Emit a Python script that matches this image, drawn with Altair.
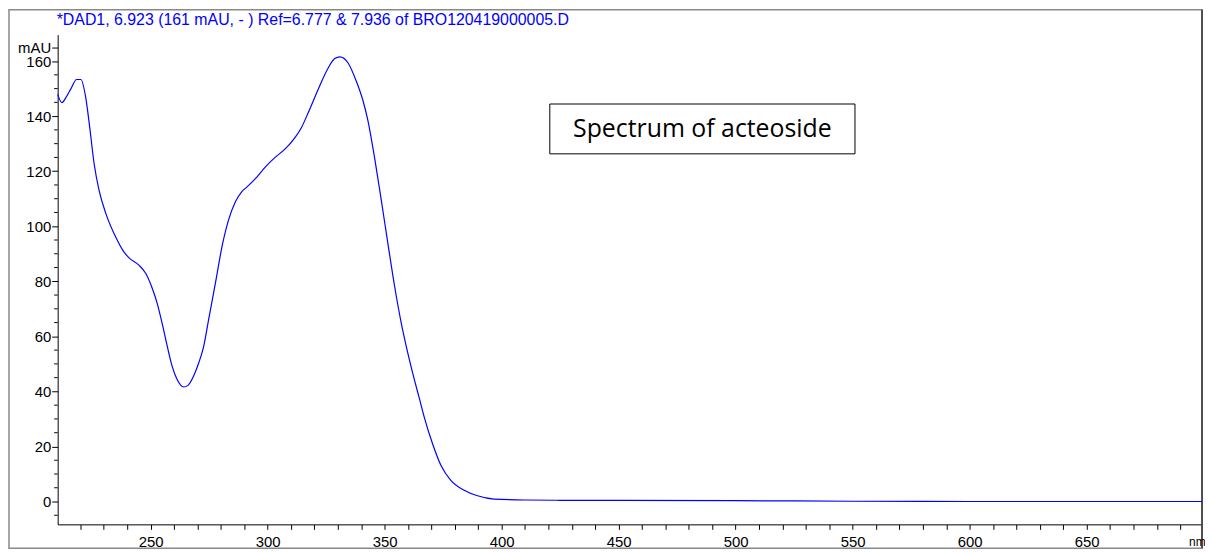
import altair as alt
import pandas as pd

# Spectrum data (wavelength nm, absorbance mAU)
wavelength = [210.3, 212.1, 213.8, 216.0, 218.4, 220.2, 222.3, 224.0, 225.9, 228.0,
              230.9, 235.1, 238.6, 240.8, 245.0, 247.9, 250.7, 252.8, 254.9, 257.1,
              259.2, 261.3, 264.2, 266.0, 268.4, 270.6, 272.7, 274.8, 277.7, 280.5,
              283.3, 286.2, 289.0, 291.1, 294.7, 298.9, 303.2, 307.4, 311.7, 314.5,
              317.4, 321.6, 325.9, 328.7, 330.9, 334.4, 337.9, 340.8, 342.9, 345.7,
              348.6, 351.4, 354.3, 357.1, 359.9, 362.8, 365.0, 367.0, 370.5, 374.1,
              378.3, 384.0, 389.7, 396.8, 410.0, 425.0, 450.0, 500.0, 550.0, 600.0,
              650.0, 699.3]
absorbance = [147.9, 144.9, 146.7, 150.0, 153.3, 153.3, 146.7, 135.9, 122.6, 113.0,
              104.6, 96.1, 90.7, 88.5, 85.9, 82.9, 77.5, 72.1, 64.9, 56.5,
              49.2, 44.4, 41.6, 42.2, 45.6, 50.4, 56.4, 66.1, 79.3, 92.5,
              102.2, 108.8, 112.6, 114.2, 117.2, 121.4, 125.0, 128.0, 132.2, 135.9,
              141.3, 149.7, 157.5, 160.9, 161.5, 159.3, 152.7, 145.5, 138.3, 125.0,
              109.4, 93.8, 78.1, 64.9, 54.0, 44.0, 37.0, 30.5, 21.0, 13.1,
              7.7, 4.1, 2.1, 0.9, 0.55, 0.45, 0.4, 0.3, 0.1, 0.0,
              0.0, 0.0]

x_ticks = list(range(220, 700, 10))
y_major = list(range(0, 161, 20)) + [165]
y_minor = [v for v in range(-5, 165, 5) if v % 20 != 0]
title_text = "*DAD1, 6.923 (161 mAU, - ) Ref=6.777 & 7.936 of BRO120419000005.D"
note_text = "Spectrum of acteoside"
note_box = {"x": 420.6, "x2": 551.0, "y": 144.4, "y2": 126.3}

df = pd.DataFrame({"nm": wavelength, "mAU": absorbance})

W, H = 1152, 493
FONT = "Liberation Sans"

xscale = alt.Scale(domain=[210.3, 699.3], nice=False, zero=False)
yscale = alt.Scale(domain=[-8.3, 169.6], nice=False, zero=False)

xaxis = alt.Axis(values=x_ticks, grid=False, title=None,
                 labelExpr="datum.value % 50 === 0 ? datum.label : ''",
                 labelFont=FONT, labelFontSize=15, labelColor="black",
                 domainColor="black", tickColor="black", tickSize=5,
                 labelPadding=5, labelFlush=False, labelOverlap=False)
yaxis = alt.Axis(values=y_major, grid=False, title=None,
                 labelExpr="datum.value === 165 ? 'mAU' : datum.label",
                 labelFont=FONT, labelFontSize=15, labelColor="black",
                 domainColor="black", tickColor="black", tickSize=6,
                 labelPadding=1, labelFlush=False, labelOverlap=False)

X = lambda f: alt.X(f, scale=xscale, axis=xaxis)
Y = lambda f: alt.Y(f, scale=yscale, axis=yaxis)

line = alt.Chart(df).mark_line(color="#0000ff", strokeWidth=1.2, interpolate="monotone").encode(
    x=X("nm:Q"), y=Y("mAU:Q"))

minor = alt.Chart(pd.DataFrame({"v": y_minor})).mark_rule(color="black", strokeWidth=1).encode(
    y=Y("v:Q"), x=alt.value(-3.5), x2=alt.value(0))

box_df = pd.DataFrame([note_box])
box = alt.Chart(box_df).mark_rect(fill="white", stroke="black", strokeWidth=1).encode(
    x=X("x:Q"), x2="x2:Q", y=Y("y:Q"), y2="y2:Q")

note_df = pd.DataFrame({"x": [(note_box["x"] + note_box["x2"]) / 2],
                        "y": [(note_box["y"] + note_box["y2"]) / 2],
                        "t": [note_text]})
note = alt.Chart(note_df).mark_text(font="Open Sans", fontSize=25, color="black",
                                    align="center", baseline="middle").encode(
    x=X("x:Q"), y=Y("y:Q"), text="t:N")

title = alt.Chart(pd.DataFrame({"t": [title_text]})).mark_text(
    font=FONT, fontSize=16, color="#0000ff", align="left", baseline="alphabetic").encode(
    x=alt.value(-1), y=alt.value(-10), text="t:N")

nm_lbl = alt.Chart(pd.DataFrame({"t": ["nm"]})).mark_text(
    font=FONT, fontSize=12, color="black", align="left", baseline="top").encode(
    x=alt.value(1139), y=alt.value(506), text="t:N")

frame = alt.Chart(pd.DataFrame({"a": [0]})).mark_rect(
    fill=None, stroke="#888888", strokeWidth=1.5).encode(
    x=alt.value(-49), x2=alt.value(1152), y=alt.value(-25), y2=alt.value(517))

right_edge = alt.Chart(pd.DataFrame({"a": [0]})).mark_rule(
    color="#333333", strokeWidth=1.5).encode(
    x=alt.value(1152), y=alt.value(-25), y2=alt.value(517))

chart = alt.layer(frame, right_edge, line, minor, box, note, title, nm_lbl).properties(
    width=W, height=H,
    autosize=alt.AutoSizeParams(type="none"),
    padding={"left": 50, "top": 25, "right": 3, "bottom": 26},
).configure_view(stroke=None)

chart.save("out.html", embed_options={"renderer": "svg", "actions": False})
